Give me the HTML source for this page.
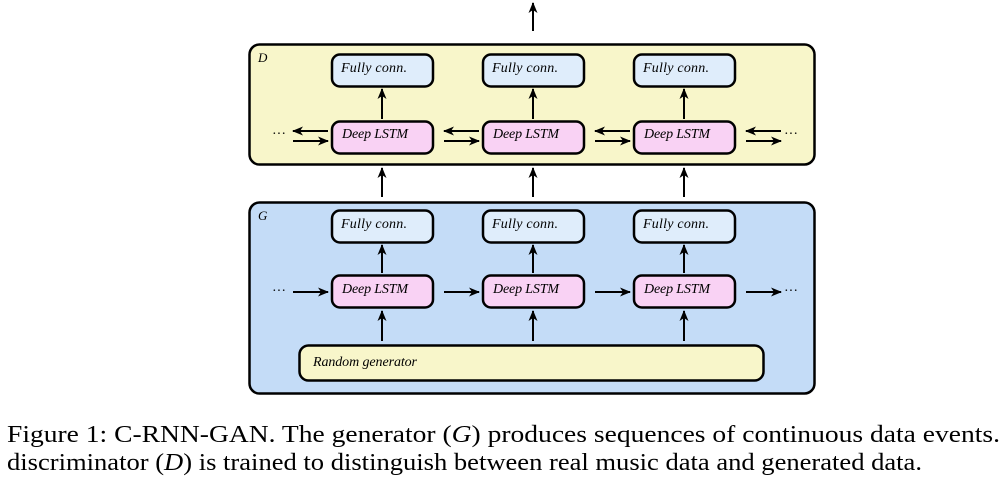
<!DOCTYPE html>
<html><head><style>
html,body{margin:0;padding:0;background:#fff;}
svg{display:block;}
</style></head><body>
<svg width="1007" height="478" viewBox="0 0 1007 478" xmlns="http://www.w3.org/2000/svg">
<defs>
<marker id="a" markerWidth="12" markerHeight="10" refX="10" refY="5" orient="auto" markerUnits="userSpaceOnUse">
<path d="M0,0.5 L11,5 L0,9.5 L3,5 z" fill="#000"/>
</marker>
</defs>
<g font-family="Liberation Serif, serif" font-style="italic" font-size="14" fill="#000">
<line x1="533" y1="31" x2="533" y2="3" stroke="#000" stroke-width="2" marker-end="url(#a)"/>
<rect x="249.5" y="44.5" width="565" height="120" rx="10" fill="#f8f6ca" stroke="#000" stroke-width="2.5"/>
<text x="258" y="62" font-size="13">D</text>
<rect x="249.5" y="202.5" width="565" height="191" rx="10" fill="#c4dcf7" stroke="#000" stroke-width="2.5"/>
<text x="258" y="220" font-size="13">G</text>
<line x1="382" y1="197" x2="382" y2="168" stroke="#000" stroke-width="2" marker-end="url(#a)"/>
<line x1="533" y1="197" x2="533" y2="168" stroke="#000" stroke-width="2" marker-end="url(#a)"/>
<line x1="684" y1="197" x2="684" y2="168" stroke="#000" stroke-width="2" marker-end="url(#a)"/>

<rect x="332" y="54.5" width="101" height="32" rx="8" fill="#dfedfb" stroke="#000" stroke-width="2.5"/>
<text x="341" y="72" textLength="66">Fully conn.</text>
<rect x="332" y="121.5" width="101" height="32" rx="8" fill="#f9d2f4" stroke="#000" stroke-width="2.5"/>
<text x="342" y="138" textLength="66">Deep LSTM</text>
<line x1="382" y1="119" x2="382" y2="89" stroke="#000" stroke-width="2" marker-end="url(#a)"/>

<rect x="483" y="54.5" width="101" height="32" rx="8" fill="#dfedfb" stroke="#000" stroke-width="2.5"/>
<text x="492" y="72" textLength="66">Fully conn.</text>
<rect x="483" y="121.5" width="101" height="32" rx="8" fill="#f9d2f4" stroke="#000" stroke-width="2.5"/>
<text x="493" y="138" textLength="66">Deep LSTM</text>
<line x1="533" y1="119" x2="533" y2="89" stroke="#000" stroke-width="2" marker-end="url(#a)"/>

<rect x="634" y="54.5" width="101" height="32" rx="8" fill="#dfedfb" stroke="#000" stroke-width="2.5"/>
<text x="643" y="72" textLength="66">Fully conn.</text>
<rect x="634" y="121.5" width="101" height="32" rx="8" fill="#f9d2f4" stroke="#000" stroke-width="2.5"/>
<text x="644" y="138" textLength="66">Deep LSTM</text>
<line x1="684" y1="119" x2="684" y2="89" stroke="#000" stroke-width="2" marker-end="url(#a)"/>

<g stroke="#000" stroke-width="2">
<line x1="328" y1="131" x2="293" y2="131" marker-end="url(#a)"/>
<line x1="293" y1="141" x2="328" y2="141" marker-end="url(#a)"/>
<line x1="479" y1="131" x2="444" y2="131" marker-end="url(#a)"/>
<line x1="444" y1="141" x2="479" y2="141" marker-end="url(#a)"/>
<line x1="630" y1="131" x2="595" y2="131" marker-end="url(#a)"/>
<line x1="595" y1="141" x2="630" y2="141" marker-end="url(#a)"/>
<line x1="781" y1="131" x2="746" y2="131" marker-end="url(#a)"/>
<line x1="746" y1="141" x2="781" y2="141" marker-end="url(#a)"/>
</g>
<text x="272" y="138" font-style="normal">···</text>
<text x="784" y="138" font-style="normal">···</text>

<rect x="332" y="210.5" width="101" height="32" rx="8" fill="#dfedfb" stroke="#000" stroke-width="2.5"/>
<text x="341" y="228" textLength="66">Fully conn.</text>
<rect x="332" y="275.5" width="101" height="32" rx="8" fill="#f9d2f4" stroke="#000" stroke-width="2.5"/>
<text x="342" y="293" textLength="66">Deep LSTM</text>
<rect x="483" y="210.5" width="101" height="32" rx="8" fill="#dfedfb" stroke="#000" stroke-width="2.5"/>
<text x="492" y="228" textLength="66">Fully conn.</text>
<rect x="483" y="275.5" width="101" height="32" rx="8" fill="#f9d2f4" stroke="#000" stroke-width="2.5"/>
<text x="493" y="293" textLength="66">Deep LSTM</text>
<rect x="634" y="210.5" width="101" height="32" rx="8" fill="#dfedfb" stroke="#000" stroke-width="2.5"/>
<text x="643" y="228" textLength="66">Fully conn.</text>
<rect x="634" y="275.5" width="101" height="32" rx="8" fill="#f9d2f4" stroke="#000" stroke-width="2.5"/>
<text x="644" y="293" textLength="66">Deep LSTM</text>
<g stroke="#000" stroke-width="2">
<line x1="382" y1="273" x2="382" y2="245" marker-end="url(#a)"/>
<line x1="533" y1="273" x2="533" y2="245" marker-end="url(#a)"/>
<line x1="684" y1="273" x2="684" y2="245" marker-end="url(#a)"/>
<line x1="382" y1="341" x2="382" y2="311" marker-end="url(#a)"/>
<line x1="533" y1="341" x2="533" y2="311" marker-end="url(#a)"/>
<line x1="684" y1="341" x2="684" y2="311" marker-end="url(#a)"/>
<line x1="293" y1="292" x2="328" y2="292" marker-end="url(#a)"/>
<line x1="444" y1="292" x2="479" y2="292" marker-end="url(#a)"/>
<line x1="595" y1="292" x2="630" y2="292" marker-end="url(#a)"/>
<line x1="746" y1="292" x2="781" y2="292" marker-end="url(#a)"/>
</g>
<text x="272" y="295" font-style="normal">···</text>
<text x="784" y="295" font-style="normal">···</text>

<rect x="299.5" y="345.5" width="464" height="35" rx="9" fill="#f8f6ca" stroke="#000" stroke-width="2.5"/>
<text x="313" y="366" textLength="104">Random generator</text>
</g>
<g font-family="Liberation Serif, serif" font-size="24" fill="#000">
<text x="7" y="442" textLength="993" lengthAdjust="spacingAndGlyphs">Figure 1: C-RNN-GAN. The generator (<tspan font-style="italic">G</tspan>) produces sequences of continuous data events.</text>
<text x="7" y="470" textLength="915" lengthAdjust="spacingAndGlyphs">discriminator (<tspan font-style="italic">D</tspan>) is trained to distinguish between real music data and generated data.</text>
</g>
</svg>
</body></html>
